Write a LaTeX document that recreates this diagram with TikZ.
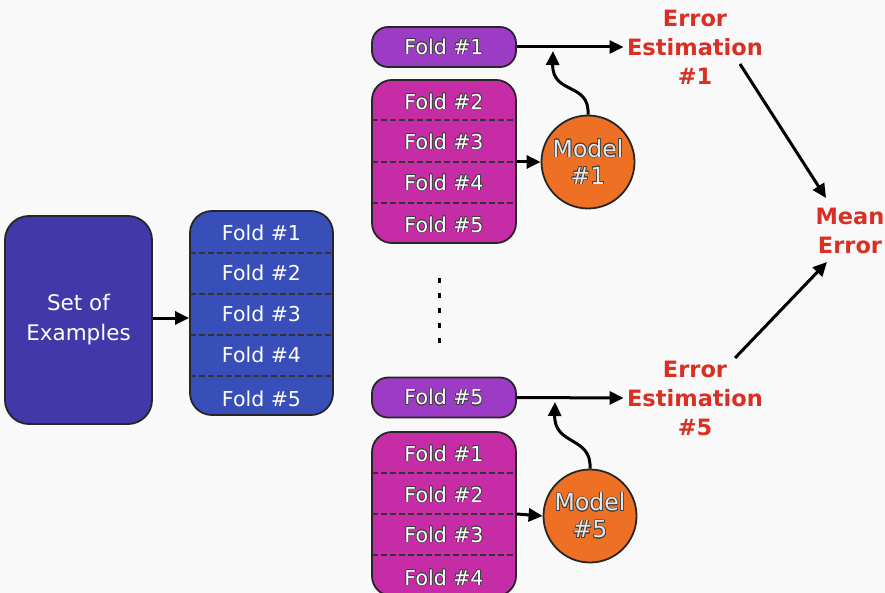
\documentclass[tikz,border=0pt]{standalone}
\usepackage{fontspec}
\setmainfont{DejaVu Sans}
\usepackage[copies]{contour}
\contourlength{0.7pt}
\contournumber{16}
\usetikzlibrary{arrows.meta}
\definecolor{setcol}{RGB}{66,56,170}
\definecolor{bluecol}{RGB}{56,78,184}
\definecolor{purpcol}{RGB}{156,60,196}
\definecolor{magcol}{RGB}{198,44,166}
\definecolor{orcol}{RGB}{238,112,36}
\definecolor{redtxt}{RGB}{216,48,36}
\definecolor{bgcol}{RGB}{249,249,249}
\newcommand{\otxt}[1]{\contour{black!75}{#1}}
\tikzset{
  box/.style={draw=black!85, line width=1.8pt, rounded corners=18pt},
  sep/.style={draw=black!80, line width=1.3pt, dash pattern=on 6pt off 3pt},
  foldtxt/.style={text=white, font=\fontsize{20.5}{22}\selectfont},
  errtxt/.style={text=redtxt, font=\bfseries\fontsize{22.5}{29}\selectfont, align=center},
  arr/.style={draw=black, line width=3pt, -{Triangle[length=14pt,width=13pt]}},
  modelnode/.style={circle, draw=black!85, line width=1.8pt, fill=orcol, minimum size=93pt, inner sep=0pt, text=white!90!black, font=\fontsize{23.5}{27}\selectfont, align=center}
}
\begin{document}
\begin{tikzpicture}[x=1pt,y=-1pt]
\useasboundingbox (0,0) rectangle (885,593);
\fill[bgcol] (0,0) rectangle (885,593);

% Set of examples
\node[box, fill=setcol, minimum width=147pt, minimum height=208pt, rounded corners=24pt, text=white, font=\fontsize{21.5}{30}\selectfont, align=center] (set) at (78.5,320) {Set of\\Examples};

% Blue folds
\node[box, fill=bluecol, minimum width=143pt, minimum height=204pt, rounded corners=22pt] (blue) at (261.5,313) {};
\draw[sep] (190,253) -- (333,253);
\draw[sep] (190,294) -- (333,294);
\draw[sep] (190,335) -- (333,335);
\draw[sep] (190,376) -- (333,376);
\node[foldtxt] (b1) at (261.5,233) {Fold \#1};
\node[foldtxt] (b2) at (261.5,273) {Fold \#2};
\node[foldtxt] (b3) at (261.5,314) {Fold \#3};
\node[foldtxt] (b4) at (261.5,355) {Fold \#4};
\node[foldtxt] (b5) at (261.5,399) {Fold \#5};
\draw[arr] (set.east |- 0,318) coordinate (sa) -- (blue.west |- sa);

% Top group
\node[box, fill=purpcol, minimum width=144pt, minimum height=40pt, rounded corners=16pt] (t1) at (444,47) {};
\node[foldtxt] at (t1) {\otxt{Fold \#1}};
\node[box, fill=magcol, minimum width=144pt, minimum height=163pt, rounded corners=20pt] (tm) at (444,161.5) {};
\draw[sep] (372,120) -- (516,120);
\draw[sep] (372,162) -- (516,162);
\draw[sep] (372,203) -- (516,203);
\node[foldtxt] at (444,102) {\otxt{Fold \#2}};
\node[foldtxt] at (444,142) {\otxt{Fold \#3}};
\node[foldtxt] at (444,183) {\otxt{Fold \#4}};
\node[foldtxt] at (444,225) {\otxt{Fold \#5}};
\node[modelnode] (m1) at (588,162) {\otxt{Model}\\\otxt{\#1}};
\draw[arr] (tm.east |- 0,162) -- (m1.west);
\node[errtxt] (e1) at (695,47) {Error\\Estimation\\\#1};
\draw[arr] (t1.east) -- (e1.west);
\coordinate (w1) at (553,51);
\draw[arr] (m1.north) .. controls (590,82) and (552,95) .. (w1);

% dots
\draw[line width=3pt, dash pattern=on 5pt off 10pt] (439,278) -- (439,346);

% Bottom group
\node[box, fill=purpcol, minimum width=144pt, minimum height=40pt, rounded corners=16pt] (t5) at (444,397.5) {};
\node[foldtxt] at (t5) {\otxt{Fold \#5}};
\node[box, fill=magcol, minimum width=144pt, minimum height=164pt, rounded corners=20pt] (bm) at (444,514) {};
\draw[sep] (372,473) -- (516,473);
\draw[sep] (372,514) -- (516,514);
\draw[sep] (372,555) -- (516,555);
\node[foldtxt] at (444,454) {\otxt{Fold \#1}};
\node[foldtxt] at (444,495) {\otxt{Fold \#2}};
\node[foldtxt] at (444,535) {\otxt{Fold \#3}};
\node[foldtxt] at (444,578) {\otxt{Fold \#4}};
\node[modelnode] (m5) at (590,516) {\otxt{Model}\\\otxt{\#5}};
\draw[arr] (bm.east |- 0,514) -- (m5.west);
\node[errtxt] (e5) at (695,398) {Error\\Estimation\\\#5};
\draw[arr] (t5.east) -- (e5.west);
\coordinate (w5) at (555,402);
\draw[arr] (m5.north) .. controls (592,436) and (554,446) .. (w5);

% Mean error
\node[errtxt] (me) at (850,231) {Mean\\Error};
\draw[arr] (740,64) -- (826,198);
\draw[arr] (735,358) -- (827,262);
\end{tikzpicture}
\end{document}
